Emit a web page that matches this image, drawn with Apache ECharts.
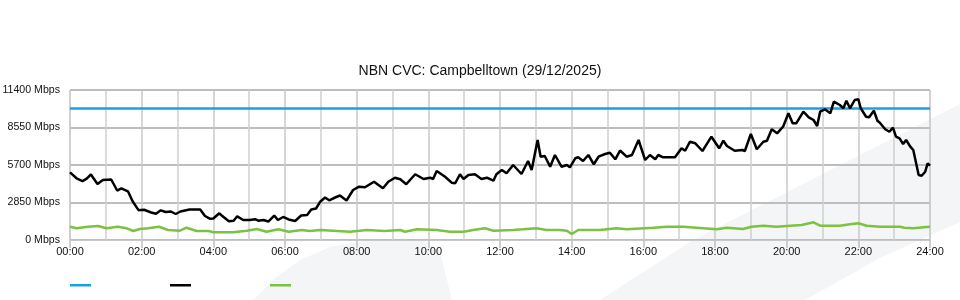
<!DOCTYPE html>
<html>
<head>
<meta charset="utf-8">
<script src="https://cdn.jsdelivr.net/npm/echarts@6/dist/echarts.min.js"></script>
<style>
html,body{margin:0;padding:0;background:#fff;}
#c{width:960px;height:300px;}
</style>
</head>
<body>
<div id="c"></div>
<script>
// time in minutes since 00:00, values in Mbps
const capacityTimes = [0, 1440];
const capacityValues = [10000, 10000];

const downTimes = [0,11,21,28,35,38,46,55,69,79,86,97,105,115,124,136,144,152,160,169,177,185,200,218,226,234,240,250,254,266,274,280,290,301,310,315,324,332,342,348,357,366,377,387,397,404,412,419,427,434,444,452,463,474,484,494,509,524,533,544,553,563,578,592,603,608,614,628,639,645,653,659,667,678,689,698,709,714,723,731,742,756,767,773,783,788,795,804,812,823,832,837,846,851,859,868,877,885,896,904,913,921,932,941,952,963,971,980,985,993,1013,1024,1030,1038,1047,1059,1074,1087,1094,1100,1113,1126,1130,1140,1150,1161,1167,1175,1184,1194,1203,1210,1216,1228,1237,1245,1251,1256,1264,1273,1279,1289,1295,1300,1306,1314,1320,1324,1333,1338,1346,1352,1356,1365,1372,1378,1383,1389,1395,1400,1407,1412,1421,1426,1432,1436,1440];
const downValues = [5145,4690,4480,4670,4980,4940,4255,4560,4600,3760,3930,3700,2925,2255,2300,2090,2000,2255,2130,2165,1975,2165,2320,2320,1825,1620,1635,2030,1860,1420,1460,1800,1520,1520,1580,1470,1520,1405,1860,1520,1750,1560,1445,1860,1900,2320,2395,2910,3230,3015,3230,3380,3000,3800,4050,4005,4430,3930,4430,4735,4615,4235,4995,4635,4735,4635,5245,4810,4355,4310,4995,4635,4940,4995,4635,4735,4505,4995,5320,5070,5700,5015,6005,5320,7600,6330,6385,5570,6460,5570,5700,5525,6210,6285,6005,6460,5755,6330,6535,6635,6135,6800,6330,6460,7600,6080,6460,6135,6460,6285,6285,6970,6785,7470,7350,6765,7850,6970,7545,7145,6785,6840,6765,8055,6895,7470,7545,8415,8110,8610,9630,8870,8870,9750,9325,9120,8665,9750,9935,9630,10510,10260,10010,10585,10010,10640,10695,10010,9370,9325,9825,9065,8915,8415,8230,8535,7850,7730,7295,7600,7090,6840,4940,4885,5190,5830,5645];

const upTimes = [0,11,30,47,61,80,95,106,117,131,149,164,184,195,212,232,240,273,296,313,329,349,366,388,402,419,441,469,497,527,553,561,581,614,636,659,675,695,709,742,759,781,798,820,832,840,851,887,915,932,977,999,1027,1049,1083,1100,1127,1141,1161,1183,1206,1225,1245,1256,1289,1306,1320,1334,1356,1373,1390,1397,1412,1429,1440];
const upValues = [1010,890,1010,1065,890,1010,890,685,835,890,1010,760,705,935,685,685,585,585,705,835,630,815,630,760,685,760,705,630,760,685,760,630,815,760,630,630,760,890,705,760,815,890,760,760,705,455,760,760,890,815,935,1010,1010,935,815,935,835,1010,1085,1010,1085,1140,1345,1085,1085,1195,1270,1085,1010,1010,1010,935,890,965,1010];

const yTicks = [0, 2850, 5700, 8550, 11400];
const titleText = 'NBN CVC: Campbelltown (29/12/2025)';
const seriesNames = ['Capacity', 'Download', 'Upload'];

function pairs(t, v) { const n = Math.min(t.length, v.length); const out = []; for (let i = 0; i < n; i++) out.push([t[i], v[i]]); return out; }
function hh(v) { const h = Math.round(v / 60); return (h < 10 ? '0' : '') + h + ':00'; }

const chart = echarts.init(document.getElementById('c'), null, {renderer: 'canvas'});
const FONT = '"Liberation Sans", Arial, sans-serif';
chart.setOption({
  animation: false,
  backgroundColor: '#ffffff',
  textStyle: {fontFamily: FONT},
  graphic: [
    {type: 'polygon', z: -10, silent: true,
     shape: {points: [[600,300],[693,240],[960,104],[960,222],[880,258],[805,300]]},
     style: {fill: '#f4f5f7'}},
    {type: 'polygon', z: -10, silent: true,
     shape: {points: [[253,300],[275,278],[300,260],[330,247],[365,241],[400,239],[425,241],[440,252],[452,300]]},
     style: {fill: '#f4f5f7'}}
  ],
  title: {
    text: titleText, left: 'center', top: 59,
    textStyle: {fontFamily: FONT, fontSize: 14, fontWeight: 'normal', color: '#111'}
  },
  legend: {
    left: 70, top: 284, padding: 0, itemWidth: 21, itemHeight: 2.5, itemGap: 79,
    icon: 'rect', formatter: function () { return ''; },
    textStyle: {fontSize: 1},
    data: seriesNames, selectedMode: false
  },
  grid: {left: 70, right: 30, top: 90, bottom: 60, outerBoundsMode: 'none', containLabel: false,
         show: true, borderColor: '#cccccc', borderWidth: 1, backgroundColor: 'transparent'},
  xAxis: {
    type: 'value', min: 0, max: 1440, interval: 120,
    axisLine: {show: true, lineStyle: {color: '#c8c8c8', width: 1}},
    axisTick: {show: true, length: 8, lineStyle: {color: '#c0c0c0', width: 1.5}},
    axisLabel: {formatter: hh, color: '#111', fontSize: 11, fontFamily: FONT, margin: 6},
    splitLine: {show: true, lineStyle: {color: '#c8c8c8', width: 1.5}},
    minorTick: {show: false, splitNumber: 2},
    minorSplitLine: {show: true, lineStyle: {color: '#cfcfcf', width: 1.5}}
  },
  yAxis: {
    type: 'value', min: yTicks[0], max: yTicks[yTicks.length - 1], interval: yTicks[1] - yTicks[0],
    axisLine: {show: false}, axisTick: {show: false},
    axisLabel: {formatter: function (v) { return v + ' Mbps'; }, color: '#111', fontSize: 10.6, fontFamily: FONT, margin: 10},
    splitLine: {show: true, lineStyle: {color: '#bdbdbd', width: 2}}
  },
  series: [
    {name: seriesNames[0], type: 'line', data: pairs(capacityTimes, capacityValues), showSymbol: false,
     lineStyle: {color: '#1ba1e2', width: 2.5}, itemStyle: {color: '#1ba1e2'}, z: 3},
    {name: seriesNames[1], type: 'line', data: pairs(downTimes, downValues), showSymbol: false,
     lineStyle: {color: '#000000', width: 2.5}, itemStyle: {color: '#000000'}, z: 4},
    {name: seriesNames[2], type: 'line', data: pairs(upTimes, upValues), showSymbol: false,
     lineStyle: {color: '#7cc142', width: 2.5}, itemStyle: {color: '#7cc142'}, z: 5}
  ]
});
</script>
</body>
</html>
